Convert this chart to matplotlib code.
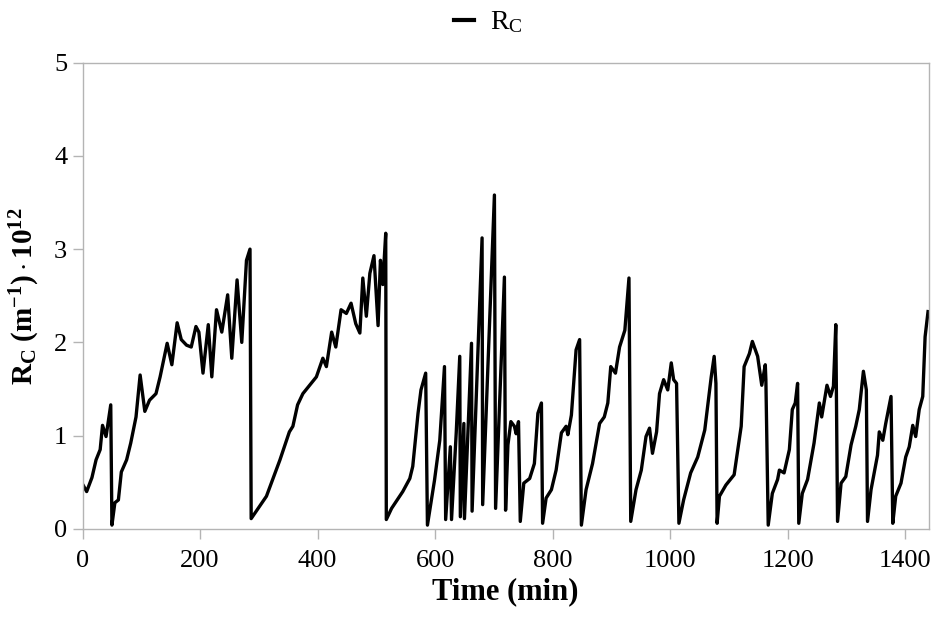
import matplotlib
matplotlib.use("Agg")
import matplotlib.pyplot as plt

plt.rcParams['font.family'] = ['Liberation Serif', 'DejaVu Serif']
plt.rcParams['mathtext.fontset'] = 'custom'
plt.rcParams['mathtext.rm'] = 'Liberation Serif'
plt.rcParams['mathtext.it'] = 'Liberation Serif:italic'
plt.rcParams['mathtext.bf'] = 'Liberation Serif:bold'

# time (min) and cake resistance R_C (m^-1 * 1e12)
time = [0, 7, 16, 23, 30, 34, 40, 48, 50, 55, 61, 66, 75, 82, 91, 98, 106, 114, 125, 132,
        144, 152, 161, 168, 177, 185, 193, 198, 205, 214, 220, 228, 237, 247, 254, 263, 271, 279, 285, 287,
        313, 336, 352, 358, 366, 375, 398, 409, 415, 424, 431, 440, 449, 457, 465, 472, 477, 483, 489, 496,
        503, 507, 511, 516, 517, 526, 545, 557, 562, 571, 576, 584, 587, 599, 608, 616, 618, 626, 628, 636,
        642, 643, 649, 650, 662, 663, 680, 681, 701, 703, 718, 720, 724, 729, 735, 738, 742, 745, 751, 761,
        769, 775, 781, 783, 789, 798, 806, 815, 823, 826, 832, 840, 846, 849, 857, 868, 880, 888, 894, 899,
        907, 914, 923, 930, 933, 942, 951, 959, 965, 970, 977, 982, 989, 996, 1002, 1006, 1011, 1015, 1023, 1035,
        1047, 1059, 1070, 1075, 1078, 1080, 1084, 1095, 1109, 1121, 1126, 1135, 1140, 1149, 1156, 1162, 1163, 1167, 1174, 1183,
        1186, 1194, 1203, 1208, 1213, 1217, 1219, 1225, 1234, 1245, 1254, 1258, 1267, 1273, 1278, 1282, 1285, 1291, 1299, 1308,
        1316, 1322, 1329, 1334, 1336, 1342, 1353, 1356, 1362, 1367, 1376, 1379, 1384, 1393, 1401, 1407, 1413, 1418, 1424, 1430,
        1434, 1439]
rc = [0.48, 0.40, 0.55, 0.74, 0.85, 1.11, 0.99, 1.33, 0.04, 0.28, 0.31, 0.61, 0.74, 0.92, 1.20, 1.65, 1.26, 1.38, 1.45, 1.63,
      1.99, 1.76, 2.21, 2.03, 1.97, 1.95, 2.17, 2.11, 1.67, 2.19, 1.63, 2.35, 2.11, 2.51, 1.83, 2.67, 2.00, 2.88, 3.00, 0.11,
      0.35, 0.74, 1.04, 1.10, 1.33, 1.45, 1.63, 1.83, 1.74, 2.11, 1.95, 2.35, 2.31, 2.42, 2.20, 2.10, 2.69, 2.28, 2.74, 2.93,
      2.18, 2.88, 2.62, 3.17, 0.10, 0.22, 0.40, 0.54, 0.67, 1.24, 1.49, 1.67, 0.04, 0.52, 0.95, 1.74, 0.10, 0.88, 0.10, 1.03,
      1.85, 0.13, 1.13, 0.11, 1.99, 0.19, 3.12, 0.26, 3.58, 0.22, 2.70, 0.20, 0.90, 1.15, 1.10, 1.02, 1.15, 0.08, 0.49, 0.54,
      0.70, 1.24, 1.35, 0.06, 0.33, 0.42, 0.63, 1.03, 1.10, 1.01, 1.22, 1.92, 2.03, 0.04, 0.42, 0.70, 1.13, 1.20, 1.35, 1.74,
      1.67, 1.95, 2.13, 2.69, 0.08, 0.42, 0.63, 0.99, 1.08, 0.81, 1.04, 1.45, 1.60, 1.49, 1.78, 1.60, 1.56, 0.06, 0.31, 0.60,
      0.77, 1.06, 1.63, 1.85, 1.56, 0.06, 0.35, 0.47, 0.58, 1.10, 1.74, 1.88, 2.01, 1.85, 1.54, 1.76, 1.60, 0.04, 0.38, 0.53,
      0.63, 0.60, 0.85, 1.28, 1.35, 1.56, 0.06, 0.38, 0.53, 0.92, 1.35, 1.20, 1.54, 1.42, 1.53, 2.19, 0.08, 0.49, 0.56, 0.90,
      1.10, 1.28, 1.69, 1.49, 0.08, 0.42, 0.79, 1.04, 0.95, 1.13, 1.42, 0.06, 0.35, 0.49, 0.77, 0.88, 1.11, 0.99, 1.28, 1.42,
      2.06, 2.33]

x_ticks = [0, 200, 400, 600, 800, 1000, 1200, 1400]
y_ticks = [0, 1, 2, 3, 4, 5]

fig = plt.figure(figsize=(9.38, 6.2), dpi=100)
ax = fig.add_axes([0.088, 0.147, 0.902, 0.752])

ax.plot(time, rc, color='black', lw=2.4, label=r'R$_\mathrm{C}$')

ax.set_xlim(0, 1440)
ax.set_ylim(0, 5)
ax.set_xticks(x_ticks)
ax.set_yticks(y_ticks)

for s in ax.spines.values():
    s.set_color('#b4b4b4')
    s.set_linewidth(1.0)
ax.tick_params(axis='both', colors='#b4b4b4', labelcolor='black', labelsize=19,
               length=7, width=1.0, direction='out')
ax.tick_params(axis='x', pad=8)
ax.tick_params(axis='y', pad=4)

ax.set_xlabel('Time (min)', fontsize=22, fontweight='bold', labelpad=4)
ax.set_ylabel(r'$\mathbf{R_C\ (m^{-1})\cdot 10^{12}}$', fontsize=21, labelpad=9)

leg = ax.legend(loc='lower center', bbox_to_anchor=(0.48, 1.005), frameon=False,
                fontsize=20, handlelength=0.7, handletextpad=0.6)
for line in leg.get_lines():
    line.set_linewidth(3)

fig.savefig('out.png', dpi=100)
